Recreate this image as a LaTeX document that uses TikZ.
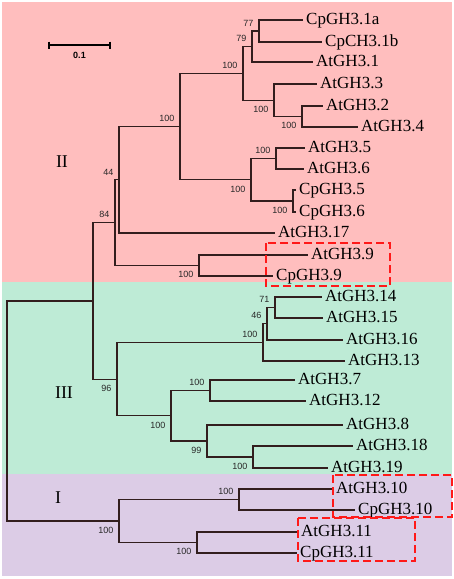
\documentclass[tikz,border=0pt]{standalone}
\usepackage{fontspec}
\setmainfont{Liberation Serif}
\newfontfamily\bootfont{Liberation Sans}
\usetikzlibrary{positioning}

\definecolor{cladeII}{RGB}{255,190,190}
\definecolor{cladeIII}{RGB}{190,235,214}
\definecolor{cladeI}{RGB}{220,204,230}
\definecolor{treeline}{RGB}{50,30,30}
\definecolor{bootgray}{RGB}{40,40,40}
\definecolor{hired}{RGB}{255,25,25}

\begin{document}
\begin{tikzpicture}[x=1pt,y=-1pt,
	branch/.style={line width=1.2pt, draw=treeline},
	leaf/.style={anchor=west, inner sep=3pt, text height=11pt, text depth=3pt, font=\fontsize{17}{17}\selectfont},
	boot/.style={inner sep=1pt, font=\bootfont\fontsize{9}{9}\selectfont, text=bootgray},
	up/.style={boot, above left=3.5pt and 4.5pt of #1},
	down/.style={boot, below left=5pt and 4.5pt of #1},
	clade/.style={font=\fontsize{18}{18}\selectfont},
	hibox/.style={draw=hired, line width=2pt, dash pattern=on 8pt off 4pt}]
	\useasboundingbox (0,0) rectangle (454,579);

	% clade backgrounds
	\fill[cladeII] (1.5,1.5) rectangle (452,282);
	\fill[cladeIII] (1.5,282) rectangle (452,474);
	\fill[cladeI] (1.5,474) rectangle (452,576);

	% scale bar
	\draw[line width=1.2pt] (49,45) -- (110,45);
	\draw[line width=1.2pt] (49,41.5) -- (49,48.5);
	\draw[line width=1.2pt] (110,41.5) -- (110,48.5);
	\node[font=\bootfont\bfseries\fontsize{9}{9}\selectfont] (bar) at (79.5,55.5) {0.1};

	% clade names
	\node[clade] (II) at (62,162) {II};
	\node[clade] (III) at (64,393) {III};
	\node[clade] (I) at (58,498) {I};

	% leaves
	\node[leaf] (cp31a) at (303,20) {CpGH3.1a};
	\node[leaf] (cp31b) at (322,42) {CpCH3.1b};
	\node[leaf] (at31) at (313,62) {AtGH3.1};
	\node[leaf] (at33) at (317,84) {AtGH3.3};
	\node[leaf] (at32) at (323,106) {AtGH3.2};
	\node[leaf] (at34) at (358,127) {AtGH3.4};
	\node[leaf] (at35) at (305,148) {AtGH3.5};
	\node[leaf] (at36) at (304,169) {AtGH3.6};
	\node[leaf] (cp35) at (296,190) {CpGH3.5};
	\node[leaf] (cp36) at (296,212) {CpGH3.6};
	\node[leaf] (at317) at (275,233) {AtGH3.17};
	\node[leaf] (at39) at (308,255) {AtGH3.9};
	\node[leaf] (cp39) at (273,276) {CpGH3.9};
	\node[leaf] (at314) at (322,297) {AtGH3.14};
	\node[leaf] (at315) at (323,318) {AtGH3.15};
	\node[leaf] (at316) at (343,340) {AtGH3.16};
	\node[leaf] (at313) at (345,361) {AtGH3.13};
	\node[leaf] (at37) at (295,380) {AtGH3.7};
	\node[leaf] (at312) at (306,401) {AtGH3.12};
	\node[leaf] (at38) at (343,425) {AtGH3.8};
	\node[leaf] (at318) at (353,446) {AtGH3.18};
	\node[leaf] (at319) at (328,468) {AtGH3.19};
	\node[leaf] (at310) at (333,489) {AtGH3.10};
	\node[leaf] (cp310) at (355,510) {CpGH3.10};
	\node[leaf] (at311) at (298,532) {AtGH3.11};
	\node[leaf] (cp311) at (297,553) {CpGH3.11};

	% inner nodes
	\coordinate (n1ab) at (259,31);
	\coordinate (n1) at (252,46.5);
	\coordinate (n24) at (302,116.5);
	\coordinate (n234) at (274,100.25);
	\coordinate (n1234) at (243,73.4);
	\coordinate (n56at) at (276,158.5);
	\coordinate (n56cp) at (293,201);
	\coordinate (n56) at (251,179.75);
	\coordinate (nup) at (180,126.6);
	\coordinate (n17) at (119,179.8);
	\coordinate (n9) at (199,265.5);
	\coordinate (nII) at (115,222.6);
	\coordinate (n1415) at (275,307.5);
	\coordinate (n16) at (267,323.75);
	\coordinate (n13) at (263,342.4);
	\coordinate (n712) at (210,390.5);
	\coordinate (n1819) at (253,457);
	\coordinate (n8) at (207,441);
	\coordinate (n7812) at (171,415.75);
	\coordinate (nIII) at (117,379.1);
	\coordinate (nIIIII) at (93,300.9);
	\coordinate (n10) at (239,499.5);
	\coordinate (n11) at (197,542.5);
	\coordinate (nI) at (119,521);
	\coordinate (root) at (7,411);

	% branches
	\draw[branch] (n1ab) |- (cp31a.west) (n1ab) |- (cp31b.west);
	\draw[branch] (n1) |- (n1ab) (n1) |- (at31.west);
	\draw[branch] (n24) |- (at32.west) (n24) |- (at34.west);
	\draw[branch] (n234) |- (at33.west) (n234) |- (n24);
	\draw[branch] (n1234) |- (n1) (n1234) |- (n234);
	\draw[branch] (n56at) |- (at35.west) (n56at) |- (at36.west);
	\draw[branch] (n56cp) |- (cp35.west) (n56cp) |- (cp36.west);
	\draw[branch] (n56) |- (n56at) (n56) |- (n56cp);
	\draw[branch] (nup) |- (n1234) (nup) |- (n56);
	\draw[branch] (n17) |- (nup) (n17) |- (at317.west);
	\draw[branch] (n9) |- (at39.west) (n9) |- (cp39.west);
	\draw[branch] (nII) |- (n17) (nII) |- (n9);
	\draw[branch] (n1415) |- (at314.west) (n1415) |- (at315.west);
	\draw[branch] (n16) |- (n1415) (n16) |- (at316.west);
	\draw[branch] (n13) |- (n16) (n13) |- (at313.west);
	\draw[branch] (n712) |- (at37.west) (n712) |- (at312.west);
	\draw[branch] (n1819) |- (at318.west) (n1819) |- (at319.west);
	\draw[branch] (n8) |- (at38.west) (n8) |- (n1819);
	\draw[branch] (n7812) |- (n712) (n7812) |- (n8);
	\draw[branch] (nIII) |- (n13) (nIII) |- (n7812);
	\draw[branch] (nIIIII) |- (nII) (nIIIII) |- (nIII);
	\draw[branch] (n10) |- (at310.west) (n10) |- (cp310.west);
	\draw[branch] (n11) |- (at311.west) (n11) |- (cp311.west);
	\draw[branch] (nI) |- (n10) (nI) |- (n11);
	\draw[branch] (root) |- (nIIIII) (root) |- (nI);

	% bootstrap values
	\node[up=n1ab] (b1ab) {77};
	\node[up=n1] (b1) {79};
	\node[up=n1234] (b1234) {100};
	\node[down=n234] (b234) {100};
	\node[down=n24] (b24) {100};
	\node[up=nup] (bup) {100};
	\node[up=n56at] (b56at) {100};
	\node[down=n56] (b56) {100};
	\node[down=n56cp] (b56cp) {100};
	\node[up=n17] (b17) {44};
	\node[up=nII] (bII) {84};
	\node[down=n9] (b9) {100};
	\node[up=n1415] (b1415) {71};
	\node[up=n16] (b16) {46};
	\node[up=n13] (b13) {100};
	\node[down=nIII] (bIII) {96};
	\node[up=n712] (b712) {100};
	\node[down=n7812] (b7812) {100};
	\node[down=n8] (b8) {99};
	\node[down=n1819] (b1819) {100};
	\node[up=n10] (b10) {100};
	\node[down=nI] (bI) {100};
	\node[down=n11] (b11) {100};

	% highlighted pairs
	\draw[hibox] (266,243) rectangle (390,286);
	\draw[hibox] (333,475) rectangle (452,517);
	\draw[hibox] (298,518) rectangle (415,561);
\end{tikzpicture}
\end{document}
